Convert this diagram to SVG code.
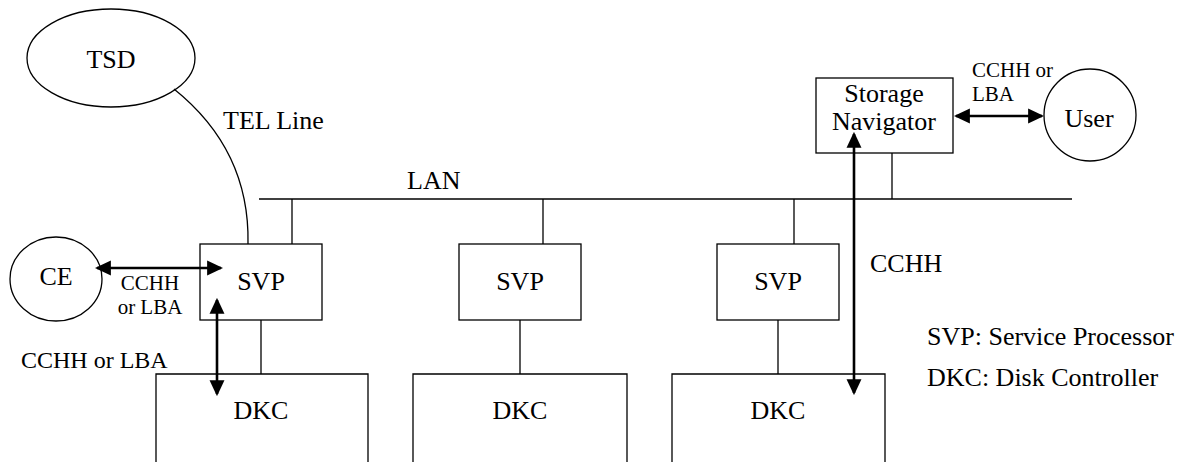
<svg xmlns="http://www.w3.org/2000/svg" width="1190" height="462" viewBox="0 0 1190 462">
<defs>
<style>
.shape{fill:#fff;stroke:#000;stroke-width:1.3}
.ln{fill:none;stroke:#000;stroke-width:1.3}
.arr{fill:none;stroke:#000;stroke-width:2.6}
.t26{font-size:26px}
.t21{font-size:21px}
.t24{font-size:24px}
.c{text-anchor:middle}
</style>
<marker id="ahEnd" markerUnits="userSpaceOnUse" markerWidth="16" markerHeight="16" viewBox="0 0 15 14" refX="13" refY="7" orient="auto">
<path d="M0,0 L15,7 L0,14 z" fill="#000"/>
</marker>
<marker id="ahStart" markerUnits="userSpaceOnUse" markerWidth="16" markerHeight="16" viewBox="0 0 15 14" refX="2" refY="7" orient="auto">
<path d="M15,0 L0,7 L15,14 z" fill="#000"/>
</marker>
</defs>
<rect width="1190" height="462" fill="#fff"/>

<g font-family="'Liberation Serif', 'DejaVu Serif', serif" fill="#000">
<g id="tsd">
<ellipse class="shape" cx="111" cy="58" rx="84" ry="49"/>
<text class="t26 c" x="111" y="68">TSD</text>
</g>
<text class="t26" x="223" y="129">TEL Line</text>
<text class="t26" x="407" y="189">LAN</text>

<g id="ce">
<ellipse class="shape" cx="56" cy="279" rx="46" ry="42"/>
<text class="t26 c" x="56" y="285">CE</text>
</g>

<g id="svp1">
<rect class="shape" x="200" y="244" width="122" height="76"/>
<text class="t26 c" x="261" y="290">SVP</text>
</g>
<g id="svp2">
<rect class="shape" x="459" y="244" width="122" height="76"/>
<text class="t26 c" x="520" y="290">SVP</text>
</g>
<g id="svp3">
<rect class="shape" x="717" y="244" width="122" height="76"/>
<text class="t26 c" x="778" y="290">SVP</text>
</g>

<g id="dkc1">
<path class="ln" d="M156,470 V374 H368 V470"/>
<text class="t26 c" x="261" y="419">DKC</text>
</g>
<g id="dkc2">
<path class="ln" d="M413,470 V374 H627 V470"/>
<text class="t26 c" x="520" y="419">DKC</text>
</g>
<g id="dkc3">
<path class="ln" d="M672,470 V374 H885 V470"/>
<text class="t26 c" x="778" y="419">DKC</text>
</g>

<g id="navigator">
<rect class="shape" x="816" y="78" width="137" height="75"/>
<text class="t26 c" x="884" y="102">Storage</text>
<text class="t26 c" x="884" y="130">Navigator</text>
</g>
<g id="user">
<circle class="shape" cx="1090" cy="115" r="46"/>
<text class="t26 c" x="1089" y="127">User</text>
</g>

<g id="labels">
<text class="t21 c" x="150" y="290">CCHH</text>
<text class="t21 c" x="150" y="314">or LBA</text>
<text class="t24" x="21" y="368">CCHH or LBA</text>
<text class="t21" x="972" y="77">CCHH or</text>
<text class="t21" x="972" y="101">LBA</text>
<text class="t26" x="870" y="272">CCHH</text>
<text class="t26" x="927" y="345">SVP: Service Processor</text>
<text class="t26" x="927" y="386">DKC: Disk Controller</text>
</g>
</g>

<g id="connectors">
<path class="ln" d="M174,89 Q250,150 248,244"/>
<line class="ln" x1="259" y1="199" x2="1072" y2="199"/>
<line class="ln" x1="292" y1="199" x2="292" y2="244"/>
<line class="ln" x1="543" y1="199" x2="543" y2="244"/>
<line class="ln" x1="794" y1="199" x2="794" y2="244"/>
<line class="ln" x1="892" y1="199" x2="892" y2="153"/>
<line class="ln" x1="261" y1="320" x2="261" y2="374"/>
<line class="ln" x1="520" y1="320" x2="520" y2="374"/>
<line class="ln" x1="778" y1="320" x2="778" y2="374"/>
<line class="arr" x1="97" y1="268" x2="221" y2="268" marker-start="url(#ahStart)" marker-end="url(#ahEnd)"/>
<line class="arr" x1="217" y1="300" x2="217" y2="394" marker-start="url(#ahStart)" marker-end="url(#ahEnd)"/>
<line class="arr" x1="956" y1="116" x2="1042" y2="116" marker-start="url(#ahStart)" marker-end="url(#ahEnd)"/>
<line class="arr" x1="854" y1="134" x2="854" y2="393" marker-start="url(#ahStart)" marker-end="url(#ahEnd)"/>
</g>
</svg>
